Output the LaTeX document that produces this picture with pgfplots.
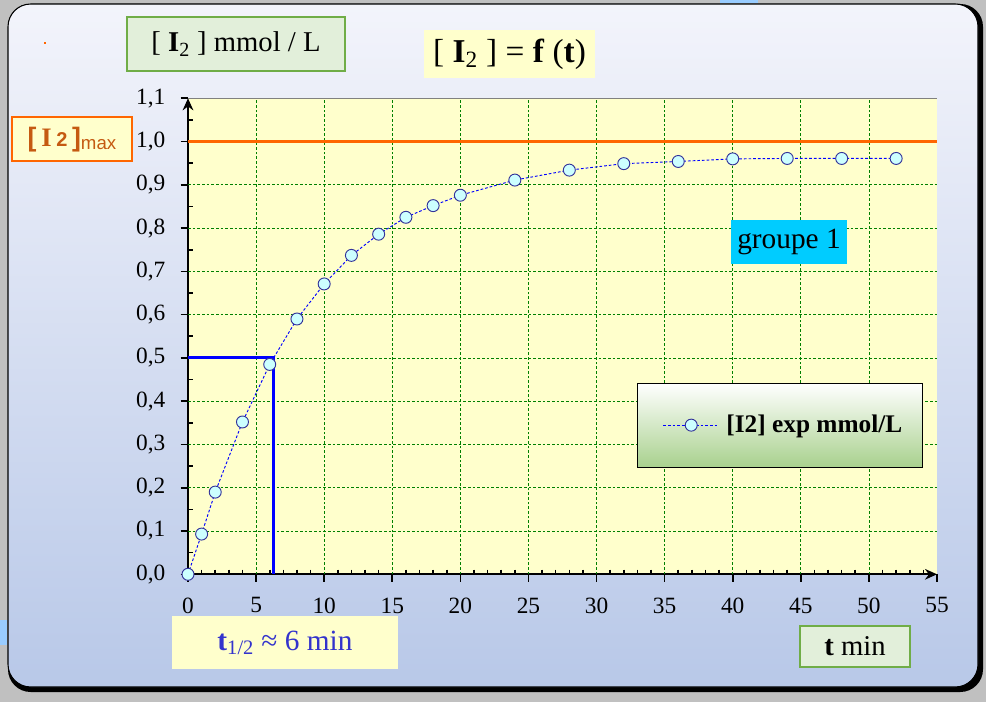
\documentclass[border=0pt]{standalone}
\usepackage{fontspec}
\setmainfont{Liberation Serif}
\newfontfamily\sansf{Liberation Sans}
\usepackage{pgfplots}
\usepackage{pgfplotstable}
\pgfplotsset{compat=1.18}
\usetikzlibrary{arrows.meta}
\definecolor{plotyellow}{HTML}{FFFFCC}
\definecolor{gridgreen}{HTML}{008000}
\definecolor{maxorange}{HTML}{FF6600}
\definecolor{maxtext}{HTML}{C55A11}
\definecolor{boxgreen}{HTML}{E2EFDA}
\definecolor{boxgreenborder}{HTML}{70AD47}
\definecolor{markfill}{HTML}{CCFFFF}
\definecolor{markdraw}{HTML}{333399}
\definecolor{halfblue}{HTML}{0000FF}
\definecolor{textblue}{HTML}{3333CC}
\definecolor{cyanbox}{HTML}{00CCFF}
\definecolor{legendgreen}{HTML}{A9D18E}
\definecolor{bgtop}{HTML}{F3F4FB}
\definecolor{bgmid}{HTML}{D9E0F2}
\definecolor{bgbot}{HTML}{B8C8E8}
\definecolor{outergrey}{HTML}{C0C0C0}
\definecolor{pieceblue}{HTML}{99CCFF}

\pgfplotstableread{
t c
0 0
1 0.093
2 0.190
4 0.352
6 0.485
8 0.590
10 0.671
12 0.737
14 0.786
16 0.825
18 0.852
20 0.876
24 0.911
28 0.934
32 0.949
36 0.954
40 0.960
44 0.961
48 0.961
52 0.961
}\datatable

\begin{document}
\begin{tikzpicture}[x=0.75pt,y=-0.75pt]
\useasboundingbox (0,0) rectangle (986,702);
\fill[outergrey] (0,0) rectangle (986,702);
\fill[pieceblue] (720,0) rectangle (758,3);
\fill[pieceblue] (0,620) rectangle (7,645);
\fill[black, rounded corners=17pt] (8,4) rectangle (983,692);
\shadedraw[top color=bgtop, middle color=bgmid, bottom color=bgbot, draw=black, line width=0.8pt, rounded corners=17pt] (8,4) rectangle (978,687);
\fill[maxorange] (44,42) rectangle (46,44);

\begin{axis}[
  at={(141pt,-430.725pt)}, anchor=south west,
  scale only axis, width=561.75pt, height=357pt,
  xmin=0, xmax=55, ymin=0, ymax=1.1,
  axis lines=left,
  axis line style={line width=1.6pt, -{Stealth[length=9pt,width=8pt]}},
  axis background/.style={fill=plotyellow},
  xtick={0,5,...,55},
  ytick={0,0.1,0.2,0.3,0.4,0.5,0.6,0.7,0.8,0.9,1.0,1.1},
  minor x tick num=4, minor y tick num=1,
  tick align=outside, major tick length=5.5pt, minor tick length=-3.5pt,
  tick style={black, line width=1.2pt},
  extra x ticks={5,10,...,50}, extra x tick labels={},
  extra x tick style={xmajorgrids=true, major tick length=0pt},
  extra y ticks={0.1,0.2,0.3,0.4,0.5,0.6,0.7,0.8,0.9}, extra y tick labels={},
  extra y tick style={ymajorgrids=true, major tick length=0pt},
  major grid style={gridgreen, line width=0.6pt, dash pattern=on 2pt off 1.5pt},
  xticklabel style={font=\fontsize{17.5}{20}\selectfont, /pgf/number format/.cd, fixed, precision=0, assume math mode=true},
  yticklabel style={font=\fontsize{17.5}{20}\selectfont, /pgf/number format/.cd, fixed, fixed zerofill, precision=1, use comma, assume math mode=true},
  xticklabel shift=8.5pt, yticklabel shift=8pt,
  clip=false,
  legend style={at={(0.5995,0.402)}, anchor=north west, draw=black, line width=0.6pt,
    top color=white, bottom color=legendgreen,
    font=\bfseries\fontsize{19}{22}\selectfont, inner xsep=10pt, inner ysep=22pt,
    nodes={inner xsep=5pt}},
  legend image code/.code={\path (-9pt,0pt); \draw[mark repeat=2,mark phase=2,#1] plot coordinates {(0pt,0pt) (21pt,0pt) (42pt,0pt)};},
]
\draw[gray, line width=0.8pt] (rel axis cs:0,1) -- (rel axis cs:1,1);
\addplot[maxorange, line width=2.25pt, forget plot] coordinates {(0,1) (55,1)};
\addplot[halfblue, line width=2.25pt, forget plot] coordinates {(0,0.5) (6.3,0.5) (6.3,0)};
\addplot[halfblue, line width=0.7pt, dash pattern=on 2pt off 1.5pt,
  mark=*, mark size=4.5pt, mark options={solid, fill=markfill, draw=markdraw, line width=0.7pt}]
  table[x=t, y=c] {\datatable};
\addlegendentry{[I2] exp mmol/L}
\end{axis}

\node[draw=boxgreenborder, line width=1.5pt, fill=boxgreen, minimum width=163.5pt, minimum height=40.5pt, inner sep=0pt, font=\fontsize{21.5}{25}\selectfont] at (236,44) {[ \textbf{I}\textsubscript{2} ] mmol / L};
\node[fill=plotyellow, minimum width=128.25pt, minimum height=36pt, inner sep=0pt, font=\fontsize{25}{30}\selectfont] at (509.5,54) {[ \textbf{I}\textsubscript{2} ] = \textbf{f} (\textbf{t})};
\node[draw=maxorange, line width=1.5pt, fill=plotyellow, minimum width=90pt, minimum height=33pt, inner sep=0pt, text=maxtext] at (72,139.5) {{\sansf\bfseries\fontsize{20}{24}\selectfont[}\hspace{3.5pt}{\bfseries\fontsize{20}{24}\selectfont I}\hspace{3.5pt}{\sansf\bfseries\fontsize{15}{18}\selectfont 2}\hspace{3.5pt}{\sansf\bfseries\fontsize{20}{24}\selectfont]}{\sansf\fontsize{14}{16}\selectfont\raisebox{-2pt}{max}}};
\node[fill=cyanbox, minimum width=87pt, minimum height=33pt, inner sep=0pt, font=\fontsize{22}{26}\selectfont] at (789,242) {groupe 1};
\node[fill=plotyellow, minimum width=169.5pt, minimum height=39.75pt, inner sep=0pt, text=textblue, font=\fontsize{22}{26}\selectfont] at (285,642.5) {\textbf{t}\textsubscript{1/2} ≈ 6 min};
\node[draw=boxgreenborder, line width=1.5pt, fill=boxgreen, minimum width=82.5pt, minimum height=30.75pt, inner sep=0pt, font=\fontsize{21.5}{25}\selectfont] at (855,646.5) {\textbf{t} min};
\end{tikzpicture}
\end{document}
